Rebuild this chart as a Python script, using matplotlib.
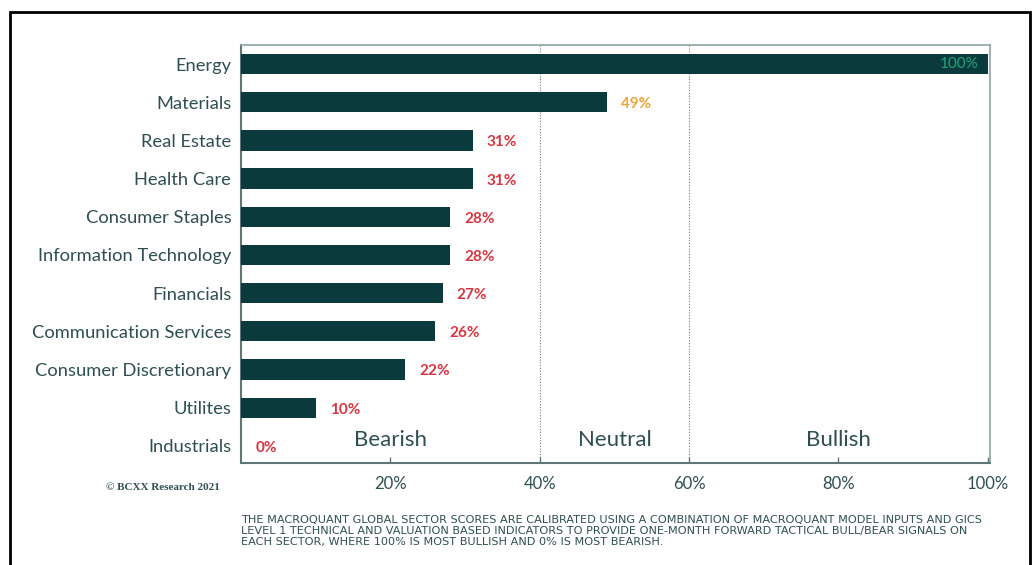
import matplotlib
matplotlib.use("Agg")
import matplotlib.pyplot as plt
from matplotlib.patches import Rectangle

plt.rcParams["font.family"] = ["Lato", "DejaVu Sans"]

SECTORS = ["Energy", "Materials", "Real Estate", "Health Care", "Consumer Staples",
           "Information Technology", "Financials", "Communication Services",
           "Consumer Discretionary", "Utilites", "Industrials"]
SCORES = [100, 49, 31, 31, 28, 28, 27, 26, 22, 10, 0]

ZONES = ["Bearish", "Neutral", "Bullish"]
ZONE_CENTERS = [20, 50, 80]
ZONE_EDGES = [40, 60]
XTICKS = [20, 40, 60, 80, 100]

BAR_COLOR = "#0b3a3d"
TEXT_COLOR = "#2e4f51"
AXIS_COLOR = "#5d7778"
RED = "#d8353f"
ORANGE = "#efa531"
GREEN = "#1ea57c"

FOOTNOTE = ("THE MACROQUANT GLOBAL SECTOR SCORES ARE CALIBRATED USING A COMBINATION OF MACROQUANT MODEL INPUTS AND GICS\n"
            "LEVEL 1 TECHNICAL AND VALUATION BASED INDICATORS TO PROVIDE ONE-MONTH FORWARD TACTICAL BULL/BEAR SIGNALS ON\n"
            "EACH SECTOR, WHERE 100% IS MOST BULLISH AND 0% IS MOST BEARISH.")


def label_color(v):
    if v >= 60:
        return GREEN
    if v >= 40:
        return ORANGE
    return RED


fig = plt.figure(figsize=(10.35, 5.65), dpi=100)
ax = fig.add_axes([0.2329, 0.1805, 0.7237, 0.7399])

ypos = list(range(len(SECTORS)))
ax.barh(ypos, SCORES, height=0.53, color=BAR_COLOR, zorder=3)

for y, v in zip(ypos, SCORES):
    if v >= 95:
        ax.text(v - 1.2, y, f"{v}%", ha="right", va="center",
                color=GREEN, fontsize=11, zorder=4)
    else:
        ax.text(v + 1.9, y + 0.05, f"{v}%", ha="left", va="center",
                color=label_color(v), fontsize=11, fontweight="bold", zorder=4)

for x in ZONE_EDGES:
    ax.axvline(x, color="#6f7f80", lw=0.8, ls=(0, (1, 1.5)), zorder=1)

for name, xc in zip(ZONES, ZONE_CENTERS):
    ax.text(xc, 9.85, name, ha="center", va="center", color=TEXT_COLOR, fontsize=16)

ax.set_xlim(0, 100.3)
ax.set_ylim(10.45, -0.5)
ax.set_xticks(XTICKS)
ax.set_xticklabels([f"{t}%" for t in XTICKS])
ax.set_yticks(ypos)
ax.set_yticklabels(SECTORS)
ax.tick_params(axis="y", length=0, pad=7, labelsize=13.2, labelcolor=TEXT_COLOR)
ax.tick_params(axis="x", direction="in", length=4, width=1, color=AXIS_COLOR,
               pad=9, labelsize=12, labelcolor=TEXT_COLOR)

for side in ["left", "bottom"]:
    ax.spines[side].set_color(AXIS_COLOR)
    ax.spines[side].set_linewidth(1.5)
for side in ["top", "right"]:
    ax.spines[side].set_color("#8fa3a4")
    ax.spines[side].set_linewidth(1.2)

fig.text(0.1575, 0.137, "© BCXX Research 2021", ha="center", va="center",
         fontsize=8, family="Liberation Serif", fontweight="bold", color=TEXT_COLOR)
fig.text(0.2329, 0.060, FOOTNOTE, ha="left", va="center", fontsize=8.1,
         family="DejaVu Sans", color=TEXT_COLOR, linespacing=1.15)

# outer frame
fig.patches.append(Rectangle((10 / 1035, -0.05), 1020 / 1035, 1.05 - 12 / 565,
                             transform=fig.transFigure, fill=False,
                             edgecolor="black", lw=2))

fig.savefig("out.png", dpi=100)
